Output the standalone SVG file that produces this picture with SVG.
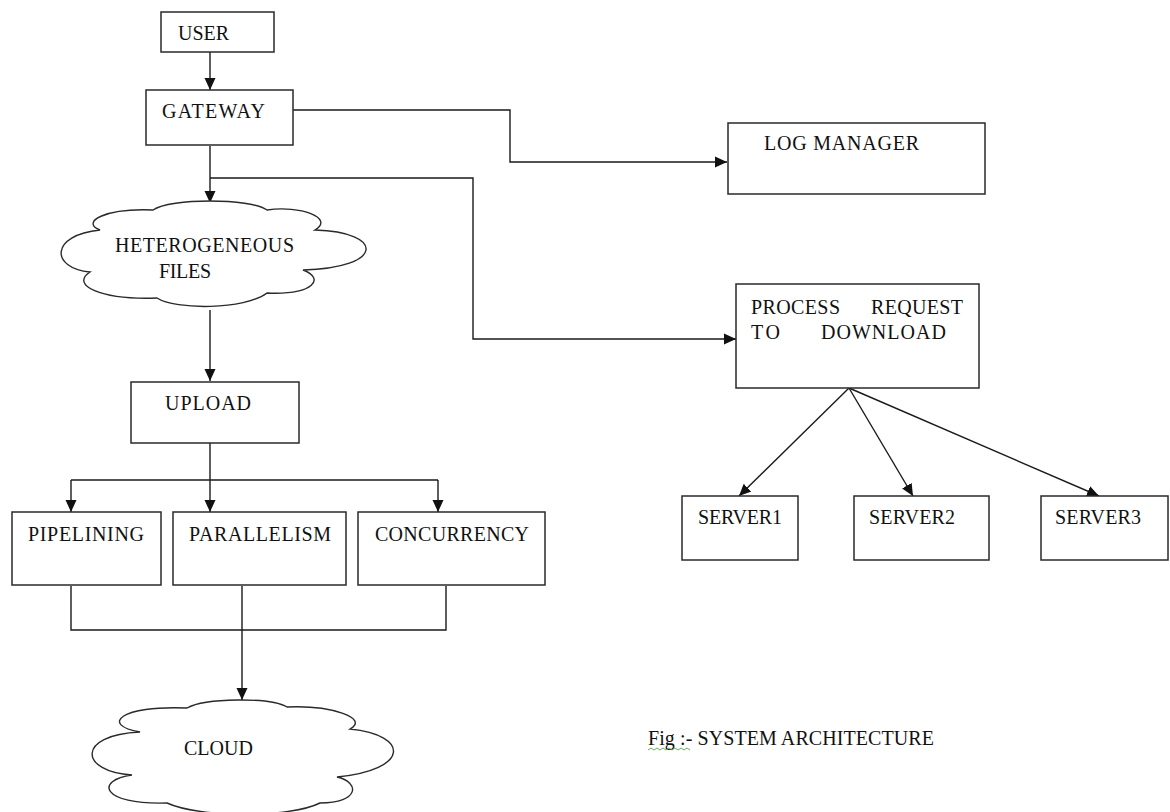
<svg xmlns="http://www.w3.org/2000/svg" width="1170" height="812" viewBox="0 0 1170 812">
  <defs>
    <marker id="arrow" markerUnits="userSpaceOnUse" markerWidth="14" markerHeight="14" viewBox="0 0 14 14" refX="12" refY="7" orient="auto">
      <path d="M0,1.5 L12,7 L0,12.5 Z" fill="#111"/>
    </marker>
    <style>
      .box { fill: #fff; stroke: #2a2a2a; stroke-width: 1.5; }
      .cloud { fill: #fff; stroke: #2a2a2a; stroke-width: 1.4; }
      .lbl { font-family: "Liberation Serif", "Times New Roman", serif; font-size: 20px; fill: #111; }
      .wire { fill: none; stroke: #1a1a1a; stroke-width: 1.4; }
      .arr { marker-end: url(#arrow); }
    </style>
  </defs>
  <rect width="1170" height="812" fill="#fff"/>

  <!-- connectors -->
  <g id="connectors">
    <path class="wire arr" d="M210,52 V90"/>
    <path class="wire arr" d="M293,110 H510 V162 H727"/>
    <path class="wire arr" d="M210,146 V203"/>
    <path class="wire arr" d="M210,178 H473 V339 H736"/>
    <path class="wire arr" d="M210,310 V381"/>
    <path class="wire arr" d="M210,443 V512"/>
    <path class="wire" d="M71,480 H438"/>
    <path class="wire arr" d="M71,480 V512"/>
    <path class="wire arr" d="M438,480 V512"/>
    <path class="wire" d="M71,586 V630 H446 V586"/>
    <path class="wire arr" d="M242,586 V700"/>
    <path class="wire arr" d="M849,388 L739,496"/>
    <path class="wire arr" d="M849,388 L913,496"/>
    <path class="wire arr" d="M849,388 L1099,496"/>
  </g>

  <g id="user">
    <rect class="box" x="161" y="12" width="113" height="40"/>
    <text class="lbl" x="178" y="40" textLength="51">USER</text>
  </g>

  <g id="gateway">
    <rect class="box" x="146" y="90" width="147" height="55"/>
    <text class="lbl" x="162" y="118" textLength="103">GATEWAY</text>
  </g>

  <g id="log-manager">
    <rect class="box" x="728" y="123" width="257" height="71"/>
    <text class="lbl" x="764" y="150" textLength="155">LOG MANAGER</text>
  </g>

  <g id="heterogeneous-files">
    <path class="cloud" d="M153,210 C170,198 250,198 267,210 C300,205 335,218 315,230 C385,232 385,268 303,270 C325,278 315,295 267,293 C245,310 175,310 157,298 C100,300 70,285 90,272 C50,268 50,235 100,230 C80,222 105,208 153,210 Z"/>
    <text class="lbl" x="115" y="252" textLength="179">HETEROGENEOUS</text>
    <text class="lbl" x="159" y="278" textLength="52">FILES</text>
  </g>

  <g id="process-request">
    <rect class="box" x="736" y="284" width="243" height="104"/>
    <text class="lbl" x="751" y="314" textLength="89">PROCESS</text>
    <text class="lbl" x="871" y="314" textLength="92">REQUEST</text>
    <text class="lbl" x="751" y="339" textLength="29">TO</text>
    <text class="lbl" x="821" y="339" textLength="125">DOWNLOAD</text>
  </g>

  <g id="upload">
    <rect class="box" x="131" y="382" width="168" height="61"/>
    <text class="lbl" x="165" y="410" textLength="86">UPLOAD</text>
  </g>

  <g id="pipelining">
    <rect class="box" x="12" y="512" width="149" height="73"/>
    <text class="lbl" x="28" y="541" textLength="116">PIPELINING</text>
  </g>

  <g id="parallelism">
    <rect class="box" x="173" y="512" width="173" height="73"/>
    <text class="lbl" x="189" y="541" textLength="142">PARALLELISM</text>
  </g>

  <g id="concurrency">
    <rect class="box" x="358" y="512" width="187" height="73"/>
    <text class="lbl" x="375" y="541" textLength="154">CONCURRENCY</text>
  </g>

  <g id="server1">
    <rect class="box" x="682" y="496" width="116" height="64"/>
    <text class="lbl" x="698" y="524" textLength="84">SERVER1</text>
  </g>

  <g id="server2">
    <rect class="box" x="854" y="496" width="135" height="64"/>
    <text class="lbl" x="869" y="524" textLength="86">SERVER2</text>
  </g>

  <g id="server3">
    <rect class="box" x="1041" y="496" width="127" height="64"/>
    <text class="lbl" x="1055" y="524" textLength="86">SERVER3</text>
  </g>

  <g id="cloud">
    <path class="cloud" d="M187,708 C205,698 270,697 287,707 C330,705 370,718 350,729 C410,735 410,770 337,777 C360,782 360,803 320,803 C290,818 200,818 167,803 C100,805 95,780 132,775 C80,772 75,735 140,732 C100,725 120,705 187,708 Z"/>
    <text class="lbl" x="184" y="755" textLength="69">CLOUD</text>
  </g>

  <g id="caption">
    <text class="lbl" x="648" y="745" textLength="286">Fig :- SYSTEM ARCHITECTURE</text>
    <path d="M648,750 l3,-2 l3,2 l3,-2 l3,2 l3,-2 l3,2 l3,-2 l3,2 l3,-2 l3,2 l3,-2 l3,2 l3,-2 l3,2" fill="none" stroke="#3a9a3a" stroke-width="0.8"/>
  </g>
</svg>
